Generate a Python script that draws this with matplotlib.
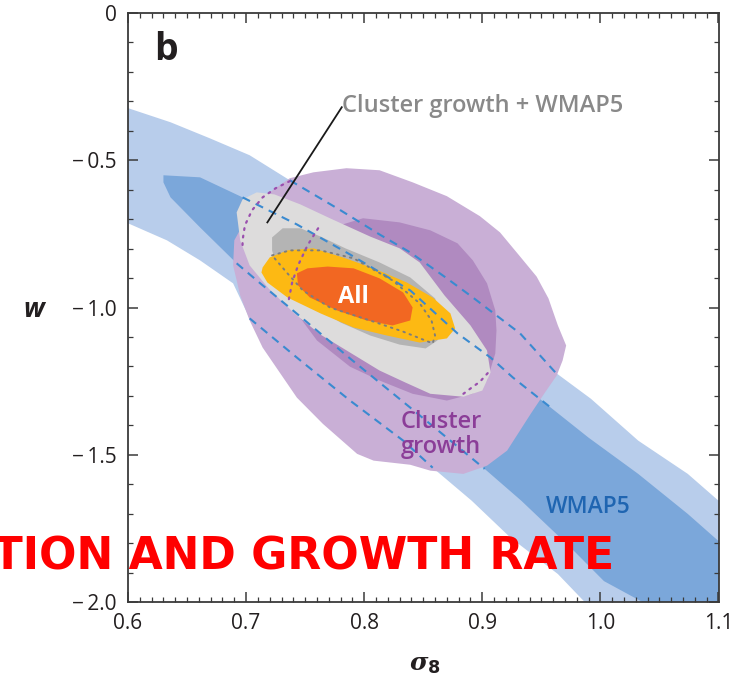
import matplotlib
matplotlib.use("Agg")
import matplotlib.pyplot as plt
import numpy as np

plt.rcParams['font.family'] = ['Open Sans', 'DejaVu Sans']
plt.rcParams['mathtext.fontset'] = 'custom'
plt.rcParams['mathtext.it'] = 'DejaVu Serif:italic:bold'
plt.rcParams['mathtext.rm'] = 'DejaVu Sans:bold'
plt.rcParams['mathtext.bf'] = 'DejaVu Sans:bold'

# ---- axis ticks -------------------------------------------------------
x_ticks = [0.6, 0.7, 0.8, 0.9, 1.0, 1.1]
x_tick_labels = ['0.6', '0.7', '0.8', '0.9', '1.0', '1.1']
y_ticks = [0.0, -0.5, -1.0, -1.5, -2.0]
y_tick_labels = ['0', '\u2212\u20090.5', '\u2212\u20091.0', '\u2212\u20091.5', '\u2212\u20092.0']

# ---- WMAP5 confidence bands (sigma8, w) -------------------------------
# outer (95%) band: upper edge, left to right
wmap95_upper_left_s = [0.576, 0.600, 0.636, 0.669, 0.703, 0.737]
wmap95_upper_left_w = [-0.286, -0.323, -0.371, -0.425, -0.483, -0.568]
wmap95_upper_mid_s = [0.737, 0.780, 0.813, 0.839, 0.870, 0.892, 0.932, 0.962]
wmap95_upper_mid_w = [-0.568, -0.670, -0.752, -0.813, -0.901, -0.966, -1.088, -1.221]
wmap95_upper_right_s = [0.962, 0.992, 1.032, 1.074, 1.100, 1.135]
wmap95_upper_right_w = [-1.221, -1.310, -1.452, -1.565, -1.656, -1.776]
# outer band: lower edge, left to right
wmap95_lower_left_s = [0.576, 0.600, 0.633, 0.661, 0.689, 0.703]
wmap95_lower_left_w = [-0.677, -0.714, -0.772, -0.840, -0.918, -1.037]
wmap95_lower_mid_s = [0.703, 0.746, 0.788, 0.833, 0.858]
wmap95_lower_mid_w = [-1.037, -1.180, -1.316, -1.452, -1.544]
wmap95_lower_right_s = [0.858, 0.891, 0.924, 0.964, 0.986, 1.017]
wmap95_lower_right_w = [-1.544, -1.656, -1.782, -1.905, -1.997, -2.133]

# inner (68%) band: upper edge
wmap68_upper_left_s = [0.630, 0.661, 0.697]
wmap68_upper_left_w = [-0.551, -0.558, -0.626]
wmap68_upper_mid_s = [0.697, 0.743, 0.788, 0.839, 0.879, 0.907, 0.926, 0.958]
wmap68_upper_mid_w = [-0.626, -0.718, -0.820, -0.942, -1.088, -1.170, -1.238, -1.340]
wmap68_upper_right_s = [0.958, 0.990, 1.032, 1.074, 1.100, 1.135]
wmap68_upper_right_w = [-1.340, -1.442, -1.565, -1.701, -1.793, -1.912]
# inner band: lower edge
wmap68_lower_left_s = [0.630, 0.636, 0.661, 0.692]
wmap68_lower_left_w = [-0.575, -0.626, -0.728, -0.850]
wmap68_lower_mid_s = [0.692, 0.712, 0.746, 0.788, 0.839, 0.873, 0.902]
wmap68_lower_mid_w = [-0.850, -0.918, -1.031, -1.173, -1.340, -1.452, -1.548]
wmap68_lower_right_s = [0.902, 0.933, 0.975, 1.003, 1.037, 1.068]
wmap68_lower_right_w = [-1.548, -1.656, -1.816, -1.929, -2.003, -2.133]

# ---- cluster growth alone ---------------------------------------------
growth95_s = [0.737, 0.757, 0.785, 0.813, 0.841, 0.870, 0.898, 0.915, 0.932, 0.946,
              0.956, 0.964, 0.971, 0.968, 0.963, 0.953, 0.941, 0.921, 0.904, 0.884,
              0.856, 0.839, 0.808, 0.794, 0.765, 0.743, 0.729, 0.714, 0.703, 0.695,
              0.689, 0.690, 0.703, 0.720]
growth95_w = [-0.561, -0.541, -0.527, -0.534, -0.575, -0.622, -0.690, -0.745, -0.827, -0.895,
              -0.969, -1.061, -1.129, -1.180, -1.231, -1.289, -1.361, -1.486, -1.537, -1.565,
              -1.554, -1.534, -1.520, -1.497, -1.395, -1.306, -1.224, -1.136, -1.044, -0.959,
              -0.857, -0.772, -0.677, -0.609]
growth68_s = [0.746, 0.771, 0.799, 0.830, 0.856, 0.879, 0.892, 0.904, 0.911, 0.912,
              0.911, 0.904, 0.892, 0.870, 0.841, 0.813, 0.788, 0.760, 0.743, 0.737, 0.739]
growth68_w = [-0.806, -0.731, -0.697, -0.711, -0.738, -0.782, -0.840, -0.918, -1.010, -1.078,
              -1.156, -1.248, -1.293, -1.316, -1.293, -1.248, -1.201, -1.112, -1.020, -0.942, -0.857]

# ---- cluster growth + WMAP5 -------------------------------------------
combo95_s = [0.692, 0.697, 0.709, 0.724, 0.746, 0.771, 0.805, 0.830, 0.847, 0.868,
             0.890, 0.904, 0.907, 0.900, 0.884, 0.856, 0.835, 0.813, 0.788, 0.763,
             0.740, 0.719, 0.703, 0.695]
combo95_w = [-0.677, -0.633, -0.609, -0.616, -0.650, -0.697, -0.759, -0.799, -0.847, -0.959,
             -1.061, -1.146, -1.221, -1.282, -1.303, -1.293, -1.255, -1.214, -1.153, -1.092,
             -1.017, -0.935, -0.857, -0.772]
combo68_s = [0.722, 0.722, 0.731, 0.746, 0.763, 0.784, 0.813, 0.839, 0.860, 0.867,
             0.862, 0.852, 0.830, 0.805, 0.780, 0.750, 0.733, 0.725]
combo68_w = [-0.806, -0.762, -0.731, -0.731, -0.759, -0.799, -0.847, -0.898, -0.969, -1.044,
             -1.112, -1.139, -1.126, -1.095, -1.051, -0.976, -0.908, -0.850]

# ---- all data combined ------------------------------------------------
all95_s = [0.714, 0.720, 0.735, 0.757, 0.782, 0.808, 0.836, 0.858, 0.873, 0.877,
           0.870, 0.847, 0.819, 0.791, 0.763, 0.735, 0.718, 0.713]
all95_w = [-0.864, -0.830, -0.806, -0.799, -0.830, -0.867, -0.915, -0.966, -1.020, -1.071,
           -1.105, -1.119, -1.095, -1.068, -1.020, -0.966, -0.915, -0.881]
all68_s = [0.743, 0.752, 0.769, 0.791, 0.813, 0.833, 0.841, 0.839, 0.824, 0.802,
           0.777, 0.754, 0.744]
all68_w = [-0.884, -0.867, -0.861, -0.867, -0.901, -0.949, -1.000, -1.044, -1.061, -1.044,
           -1.010, -0.966, -0.925]

# ---- dotted contour traces --------------------------------------------
pdot1_s = [0.737, 0.725, 0.714, 0.705, 0.699, 0.697, 0.697]
pdot1_w = [-0.571, -0.595, -0.626, -0.670, -0.721, -0.772, -0.806]
pdot2_s = [0.761, 0.752, 0.744, 0.739, 0.736]
pdot2_w = [-0.731, -0.789, -0.857, -0.915, -0.976]
pdot3_s = [0.884, 0.891, 0.898, 0.905]
pdot3_w = [-1.293, -1.272, -1.252, -1.221]
gdot_s = [0.722, 0.737, 0.763, 0.791, 0.824, 0.847, 0.857, 0.860, 0.858, 0.833,
          0.805, 0.771, 0.748, 0.735, 0.722]
gdot_w = [-0.823, -0.806, -0.806, -0.833, -0.908, -0.986, -1.044, -1.095, -1.122, -1.082,
          -1.044, -1.000, -0.942, -0.884, -0.823]

# leader line for the combined-constraint label
leader_s = [0.781, 0.718]
leader_w = [-0.320, -0.711]

# ---- colours ----------------------------------------------------------
c_wmap95 = '#b8cdeb'
c_wmap68 = '#7ba7da'
c_grow95 = '#c9afd6'
c_grow68 = '#b08ac0'
c_combo95 = '#dddcdc'
c_combo68 = '#b4b4b4'
c_all95 = '#fdb913'
c_all68 = '#f26722'
c_dash = '#3a8ad0'

fig = plt.figure(figsize=(7.42, 6.79), dpi=100)
ax = fig.add_axes([128 / 742, 77 / 679, 590.5 / 742, 589 / 679])


def band(us, uw, ls, lw):
    s = np.concatenate([np.concatenate(us), np.concatenate(ls)[::-1]])
    w = np.concatenate([np.concatenate(uw), np.concatenate(lw)[::-1]])
    return s, w


s95, w95 = band([wmap95_upper_left_s, wmap95_upper_mid_s[1:], wmap95_upper_right_s[1:]],
                [wmap95_upper_left_w, wmap95_upper_mid_w[1:], wmap95_upper_right_w[1:]],
                [wmap95_lower_left_s, wmap95_lower_mid_s[1:], wmap95_lower_right_s[1:]],
                [wmap95_lower_left_w, wmap95_lower_mid_w[1:], wmap95_lower_right_w[1:]])
s68, w68 = band([wmap68_upper_left_s, wmap68_upper_mid_s[1:], wmap68_upper_right_s[1:]],
                [wmap68_upper_left_w, wmap68_upper_mid_w[1:], wmap68_upper_right_w[1:]],
                [wmap68_lower_left_s, wmap68_lower_mid_s[1:], wmap68_lower_right_s[1:]],
                [wmap68_lower_left_w, wmap68_lower_mid_w[1:], wmap68_lower_right_w[1:]])

ax.fill(s95, w95, color=c_wmap95, lw=0, zorder=1)
ax.fill(s68, w68, color=c_wmap68, lw=0, zorder=1.1)
ax.fill(growth95_s, growth95_w, color=c_grow95, lw=0, zorder=2)
ax.fill(growth68_s, growth68_w, color=c_grow68, lw=0, zorder=2.1)
ax.fill(combo95_s, combo95_w, color=c_combo95, lw=0, zorder=3)
ax.fill(combo68_s, combo68_w, color=c_combo68, lw=0, zorder=3.1)
ax.fill(all95_s, all95_w, color=c_all95, lw=0, zorder=4)
ax.fill(all68_s, all68_w, color=c_all68, lw=0, zorder=4.1)

# WMAP5 band edges shown dashed where they pass under the other contours
for xs, ys in [(wmap95_upper_mid_s, wmap95_upper_mid_w),
               (wmap95_lower_mid_s, wmap95_lower_mid_w),
               (wmap68_upper_mid_s, wmap68_upper_mid_w),
               (wmap68_lower_mid_s, wmap68_lower_mid_w)]:
    ax.plot(xs, ys, color=c_dash, lw=1.5, ls=(0, (4.0, 3.0)), zorder=5)

dot = (0, (0.8, 2.6))
for xs, ys in [(pdot1_s, pdot1_w), (pdot2_s, pdot2_w), (pdot3_s, pdot3_w)]:
    ax.plot(xs, ys, color='#9a4fae', lw=1.6, ls=dot, dash_capstyle='round', zorder=5)
ax.plot(gdot_s, gdot_w, color='#7d7d7d', lw=1.4, ls=dot, dash_capstyle='round', zorder=5)

ax.plot(leader_s, leader_w, color='#1a1a1a', lw=1.3, zorder=6)

# ---- labels -----------------------------------------------------------
ax.text(0.622, -0.160, 'b', fontsize=27, fontweight='bold', color='#231f20',
        ha='left', va='baseline', zorder=7)
ax.text(0.781, -0.337, 'Cluster growth + WMAP5', fontsize=17, fontweight='semibold',
        color='#898989', ha='left', va='baseline', zorder=7)
ax.text(0.791, -0.966, 'All', fontsize=17, fontweight='bold', color='white',
        ha='center', va='center', zorder=7)
ax.text(0.865, -1.408, 'Cluster', fontsize=17, fontweight='semibold', color='#8b3d98',
        ha='center', va='baseline', zorder=7)
ax.text(0.865, -1.493, 'growth', fontsize=17, fontweight='semibold', color='#8b3d98',
        ha='center', va='baseline', zorder=7)
ax.text(0.990, -1.697, 'WMAP5', fontsize=16.5, fontweight='semibold', color='#1f65b1',
        ha='center', va='baseline', zorder=7)

ax.set_xlim(0.6, 1.1)
ax.set_ylim(-2.0, 0.0)
ax.set_xticks(x_ticks)
ax.set_xticklabels(x_tick_labels)
ax.set_yticks(y_ticks)
ax.set_yticklabels(y_tick_labels)
ax.set_xticks(np.arange(0.6, 1.1001, 0.01), minor=True)
ax.set_yticks(np.arange(-2.0, 0.0001, 0.1), minor=True)
ax.tick_params(which='both', direction='in', top=True, right=True, color='#3a3a3a',
               labelsize=15, labelcolor='#231f20', pad=8)
ax.tick_params(which='major', length=7.5, width=1.1)
ax.tick_params(which='minor', length=3.8, width=0.9)
for sp in ax.spines.values():
    sp.set_color('#3a3a3a')
    sp.set_linewidth(1.3)
    sp.set_zorder(8)

fig.text(34 / 742, 1 - 310 / 679, 'w', fontsize=19, fontweight='bold', fontstyle='italic',
         color='#231f20', ha='center', va='center')
fig.text(425 / 742, 1 - 664 / 679, r'$\sigma_{\mathbf{8}}$', fontsize=18,
         color='#231f20', ha='center', va='center')

fig.text(614 / 742, 1 - 570 / 679, 'ATION AND GROWTH RATE', fontsize=31.7,
         fontweight='bold', color='#ff0000', ha='right', va='baseline',
         family='DejaVu Sans', zorder=10)

fig.savefig('out.png', dpi=100)
